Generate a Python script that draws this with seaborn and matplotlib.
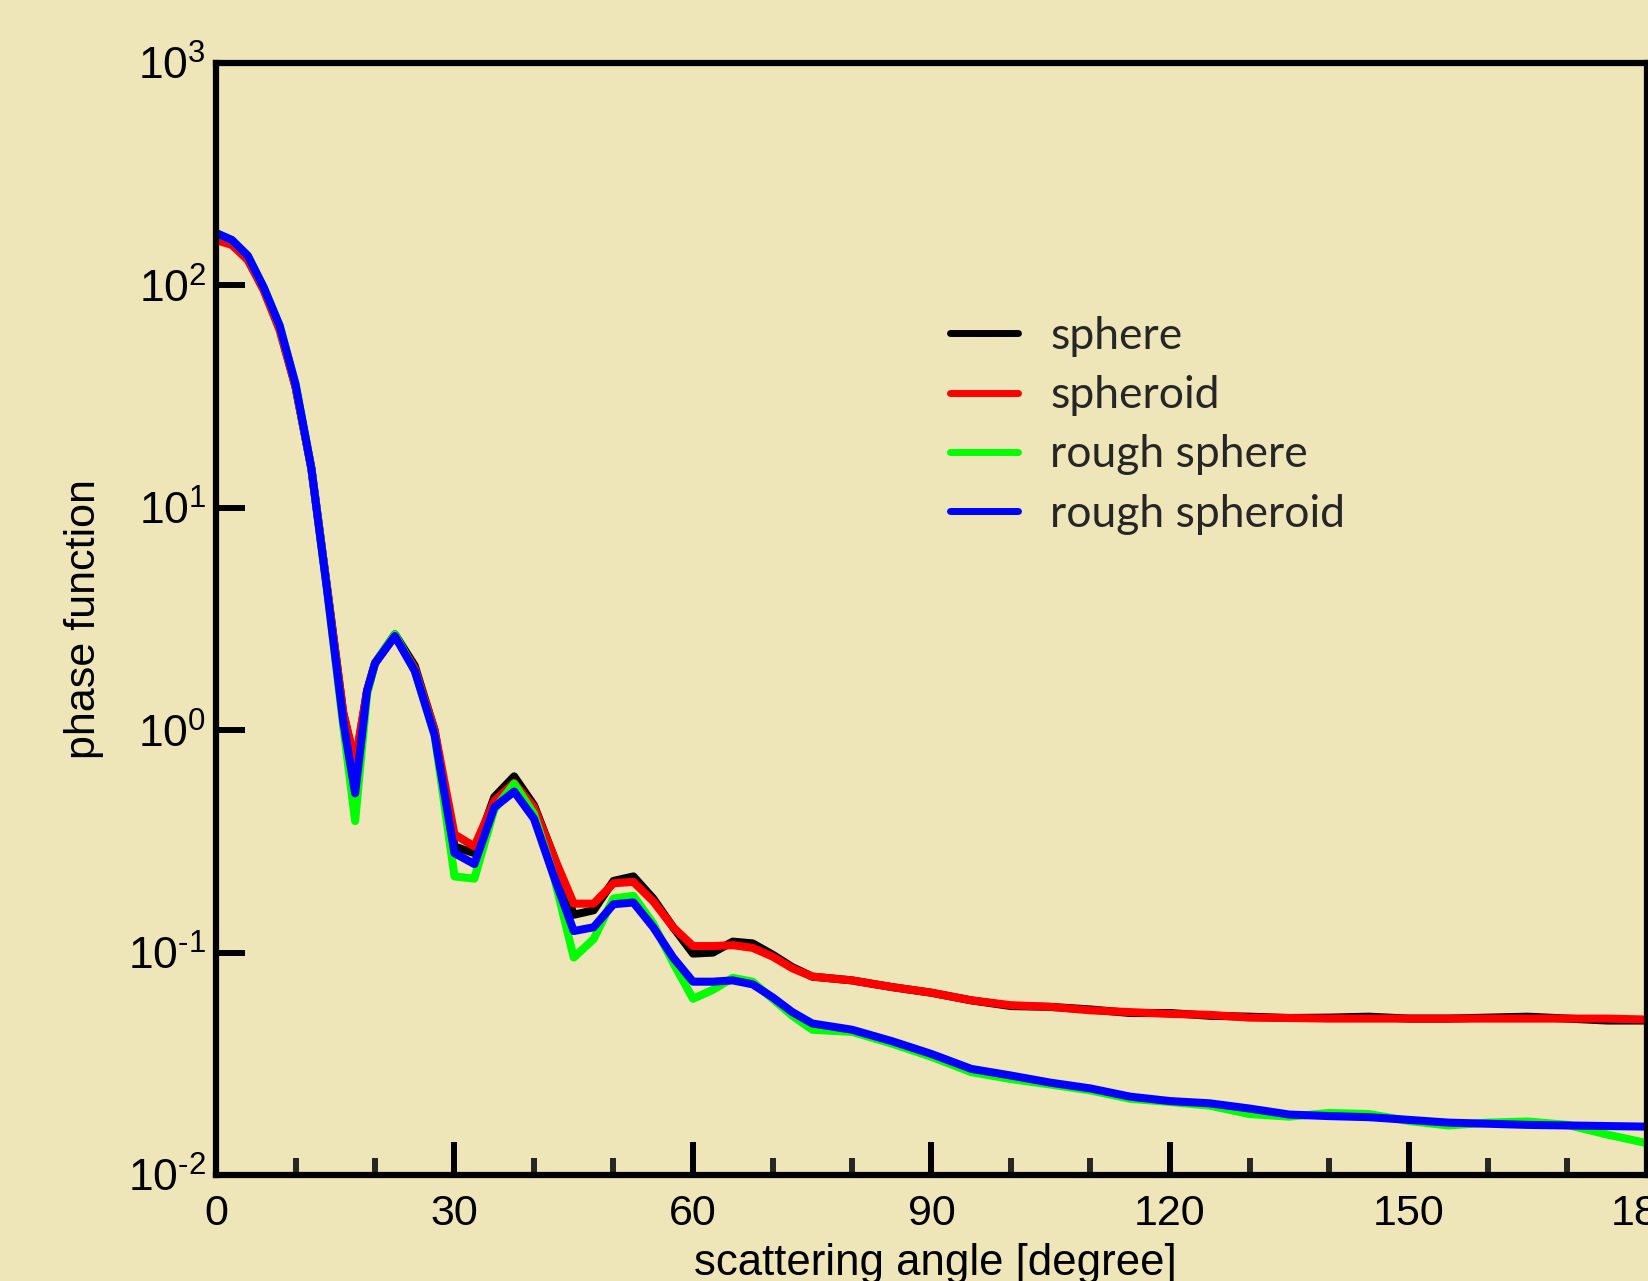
import numpy as np
import matplotlib
matplotlib.use("Agg")
import matplotlib.pyplot as plt
import matplotlib.ticker as mticker
import pandas as pd
import seaborn as sns

# scattering angle grid [degree]
angle = [0, 2, 4, 6, 8, 10, 12, 14, 16, 17.5, 19, 20, 22.5, 25, 27.5, 30, 32.5, 35,
         37.5, 40, 42.5, 45, 47.5, 50, 52.5, 55, 57.5, 60, 62.5, 65, 67.5, 70, 72.5,
         75, 80, 85, 90, 95, 100, 105, 110, 115, 120, 125, 130, 135, 140, 145, 150,
         155, 160, 165, 170, 175, 180]

sphere = [165, 154, 131, 96, 64, 35, 15, 4.3, 1.2, 0.70, 1.5, 2.0, 2.7, 1.95, 1.0,
          0.30, 0.28, 0.50, 0.62, 0.46, 0.27, 0.148, 0.155, 0.21, 0.22, 0.175, 0.13,
          0.099, 0.10, 0.112, 0.11, 0.098, 0.086, 0.078, 0.075, 0.07, 0.066, 0.061,
          0.0575, 0.057, 0.0555, 0.0535, 0.0535, 0.052, 0.0515, 0.0508, 0.051, 0.0515,
          0.0505, 0.0505, 0.051, 0.0515, 0.0505, 0.0495, 0.0495]

spheroid = [160, 152, 130, 95, 63, 35, 15, 4.3, 1.2, 0.72, 1.5, 2.0, 2.65, 1.9, 1.0,
            0.34, 0.30, 0.48, 0.58, 0.45, 0.27, 0.166, 0.166, 0.205, 0.208, 0.17, 0.13,
            0.107, 0.107, 0.108, 0.105, 0.096, 0.085, 0.078, 0.075, 0.07, 0.066, 0.061,
            0.058, 0.057, 0.055, 0.054, 0.053, 0.0525, 0.051, 0.0508, 0.0505, 0.0505,
            0.0505, 0.0505, 0.0505, 0.0505, 0.0505, 0.0505, 0.050]

rough_sphere = [172, 160, 136, 98, 66, 36, 15, 4.2, 1.05, 0.39, 1.45, 2.0, 2.7, 1.85,
                0.95, 0.22, 0.215, 0.44, 0.575, 0.42, 0.22, 0.095, 0.115, 0.175, 0.18,
                0.135, 0.09, 0.062, 0.068, 0.077, 0.074, 0.062, 0.052, 0.045, 0.044,
                0.039, 0.034, 0.029, 0.027, 0.0255, 0.024, 0.022, 0.0213, 0.0205,
                0.0188, 0.0183, 0.019, 0.0188, 0.0175, 0.0167, 0.0172, 0.0174, 0.0168,
                0.0152, 0.0139]

rough_spheroid = [172, 160, 136, 98, 66, 36, 15, 4.2, 1.1, 0.52, 1.5, 2.0, 2.65, 1.85,
                  0.95, 0.28, 0.25, 0.45, 0.53, 0.40, 0.22, 0.125, 0.13, 0.165, 0.168,
                  0.13, 0.095, 0.074, 0.074, 0.075, 0.072, 0.063, 0.054, 0.048, 0.045,
                  0.040, 0.035, 0.030, 0.028, 0.026, 0.0245, 0.0225, 0.0215, 0.021,
                  0.0199, 0.0187, 0.0184, 0.0182, 0.0177, 0.0172, 0.017, 0.0168, 0.0167,
                  0.0166, 0.0165]

labels = ["sphere", "spheroid", "rough sphere", "rough spheroid"]
colors = ["#000000", "#ff0000", "#00ff00", "#0000ff"]

df = pd.concat([
    pd.DataFrame({"angle": angle, "value": vals, "shape": lab})
    for lab, vals in zip(labels, [sphere, spheroid, rough_sphere, rough_spheroid])
], ignore_index=True)

sns.set_theme(style="white")
plt.rcParams["font.family"] = ["Liberation Sans", "DejaVu Sans"]
plt.rcParams["mathtext.fontset"] = "custom"
plt.rcParams["mathtext.rm"] = "Liberation Sans"
plt.rcParams["mathtext.it"] = "Liberation Sans:italic"

bg = "#eee5b9"
fig = plt.figure(figsize=(16.49, 12.81), dpi=100, facecolor=bg)
ax = fig.add_axes([216 / 1649, 106 / 1281, 1431 / 1649, 1112 / 1281])
ax.set_facecolor(bg)

sns.lineplot(data=df, x="angle", y="value", hue="shape", hue_order=labels,
             palette=dict(zip(labels, colors)), linewidth=5.8, estimator=None,
             sort=False, errorbar=None, ax=ax)

ax.set_yscale("log")
ax.set_xlim(0, 180)
ax.set_ylim(1e-2, 1e3)
ax.xaxis.set_major_locator(mticker.MultipleLocator(30))
ax.xaxis.set_minor_locator(mticker.MultipleLocator(10))
ax.yaxis.set_major_locator(mticker.LogLocator(base=10, numticks=10))
ax.yaxis.set_minor_locator(mticker.NullLocator())


def decade(v, pos):
    e = int(round(np.log10(v)))
    if e < 0:
        return r"$10^{\text{-}%d}$" % (-e)
    return r"$10^{%d}$" % e


ax.yaxis.set_major_formatter(mticker.FuncFormatter(decade))

for side in ["left", "right", "top", "bottom"]:
    ax.spines[side].set_visible(True)
    ax.spines[side].set_color("black")
    ax.spines[side].set_linewidth(4.5)

ax.tick_params(axis="x", which="major", direction="in", length=24, width=4.3,
               labelsize=31, pad=14, colors="black", bottom=True, top=False)
ax.tick_params(axis="x", which="minor", direction="in", length=12.5, width=4.3,
               bottom=True, top=False)
ax.tick_params(axis="y", which="major", direction="in", length=21, width=4.3,
               labelsize=32, pad=7, colors="black", left=True, right=False)

ax.set_xlabel("")
ax.set_ylabel("")
fig.text(0.5675, 0.005, "scattering angle [degree]", ha="center", va="baseline",
         fontsize=31.5, color="black")
fig.text(84 / 1649, 0.5168, "phase function", rotation=90, ha="center",
         va="center", fontsize=31, color="black")

leg = ax.legend(loc="center left", bbox_to_anchor=(950 / 1649, 0.668),
                bbox_transform=fig.transFigure, frameon=False, fontsize=32,
                handlelength=1.53, handletextpad=0.72, labelspacing=0.41,
                borderpad=0, borderaxespad=0)
for t in leg.get_texts():
    t.set_family(["Lato", "DejaVu Sans"])
for h in leg.get_lines():
    h.set_linewidth(5)

fig.savefig("out.png", dpi=100, facecolor=bg)
